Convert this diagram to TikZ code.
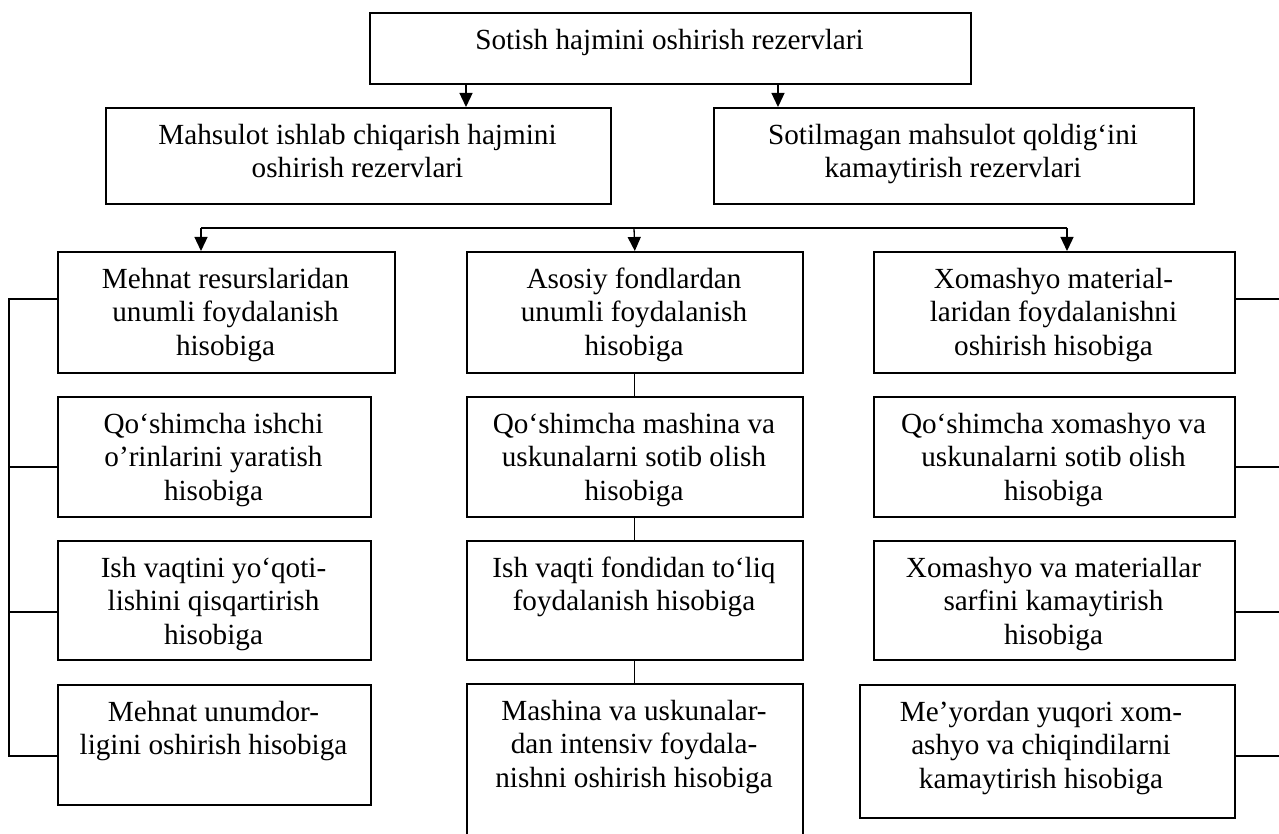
\documentclass[tikz,border=0pt]{standalone}
\usepackage{fontspec}
\setmainfont{Liberation Serif}
\usetikzlibrary{arrows.meta}

% fixed height for the first line of every box text
\newcommand\fls{\rule{0pt}{26pt}}
% box with its text set from the top: name, x1, y1, x2, y2, text
\newcommand\diagbox[6]{%
  \node[box, minimum width={(#4-#2)*1pt}, minimum height={(#5-#3)*1pt}] (#1) at (#2,#3) {};
  \node[txt] (#1t) at ({(#2+#4)/2},{#3+11}) {\fls #6};}

\begin{document}
\begin{tikzpicture}[x=1pt, y=-1pt,
  box/.style={draw, line width=1.6pt, inner sep=0pt, anchor=north west},
  txt/.style={anchor=north, align=center, inner sep=0pt,
              font=\fontsize{29.2}{33.5}\selectfont},
  link/.style={line width=1.3pt},
  arr/.style={line width=1.3pt, -{Triangle[length=14pt, width=13pt]}}]
\useasboundingbox (0,0) rectangle (1279,834);

% top level
\diagbox{T0}{369}{12}{970}{83}{Sotish hajmini oshirish rezervlari}
\diagbox{M1}{105}{107}{610}{203}{Mahsulot ishlab chiqarish hajmini\\oshirish rezervlari}
\diagbox{M2}{713}{107}{1193}{203}{Sotilmagan mahsulot qoldig‘ini\\kamaytirish rezervlari}

% left column
\diagbox{L1}{57}{251}{394}{372}{Mehnat resurslaridan\\unumli foydalanish\\hisobiga}
\diagbox{L2}{57}{396}{370}{516}{Qo‘shimcha ishchi\\o’rinlarini yaratish\\hisobiga}
\diagbox{L3}{57}{540}{370}{659}{Ish vaqtini yo‘qoti-\\lishini qisqartirish\\hisobiga}
\diagbox{L4}{57}{684}{370}{804}{Mehnat unumdor-\\ligini oshirish hisobiga}

% centre column
\diagbox{C1}{466}{251}{802}{372}{Asosiy fondlardan\\unumli foydalanish\\hisobiga}
\diagbox{C2}{466}{396}{802}{516}{Qo‘shimcha mashina va\\uskunalarni sotib olish\\hisobiga}
\diagbox{C3}{466}{540}{802}{659}{Ish vaqti fondidan to‘liq\\foydalanish hisobiga}
\diagbox{C4}{466}{683}{802}{850}{Mashina va uskunalar-\\dan intensiv foydala-\\nishni oshirish hisobiga}

% right column
\diagbox{R1}{873}{251}{1234}{372}{Xomashyo material-\\laridan foydalanishni\\oshirish hisobiga}
\diagbox{R2}{873}{396}{1234}{516}{Qo‘shimcha xomashyo va\\uskunalarni sotib olish\\hisobiga}
\diagbox{R3}{873}{540}{1234}{659}{Xomashyo va materiallar\\sarfini kamaytirish\\hisobiga}
\node[box, minimum width=375pt, minimum height=133pt] (R4) at (859,684) {};
\node[txt] (R4t) at (1041,695) {\fls Me’yordan yuqori xom-\\ashyo va chiqindilarni\\kamaytirish hisobiga};

% arrows from the top box
\draw[arr] (T0.south -| 466,0) -- (M1.north -| 466,0);
\draw[arr] (T0.south -| 778,0) -- (M2.north -| 778,0);

% distribution line to the three columns
\coordinate (hl) at (201,228);
\coordinate (hm) at (634,228);
\coordinate (hr) at (1067,228);
\draw[link] (hl) -- (hr);
\draw[arr] (hl) -- (L1.north -| hl);
\draw[arr] (hm) -- (C1.north);
\draw[arr] (hr) -- (R1.north -| hr);

% left rail
\coordinate (lr1) at (9,299);
\coordinate (lr2) at (9,467);
\coordinate (lr3) at (9,612);
\coordinate (lr4) at (9,756);
\draw[link] (L1.west |- lr1) -- (lr1) -- (lr4) -- (L4.west |- lr4);
\draw[link] (L2.west |- lr2) -- (lr2);
\draw[link] (L3.west |- lr3) -- (lr3);

% centre chain
\draw[link] (C1) -- (C2);
\draw[link] (C2) -- (C3);
\draw[link] (C3) -- (C4);

% right stubs
\coordinate (rr1) at (1279,299);
\coordinate (rr2) at (1279,467);
\coordinate (rr3) at (1279,612);
\coordinate (rr4) at (1279,756);
\draw[link] (R1.east |- rr1) -- (rr1);
\draw[link] (R2.east |- rr2) -- (rr2);
\draw[link] (R3.east |- rr3) -- (rr3);
\draw[link] (R4.east |- rr4) -- (rr4);
\end{tikzpicture}
\end{document}
